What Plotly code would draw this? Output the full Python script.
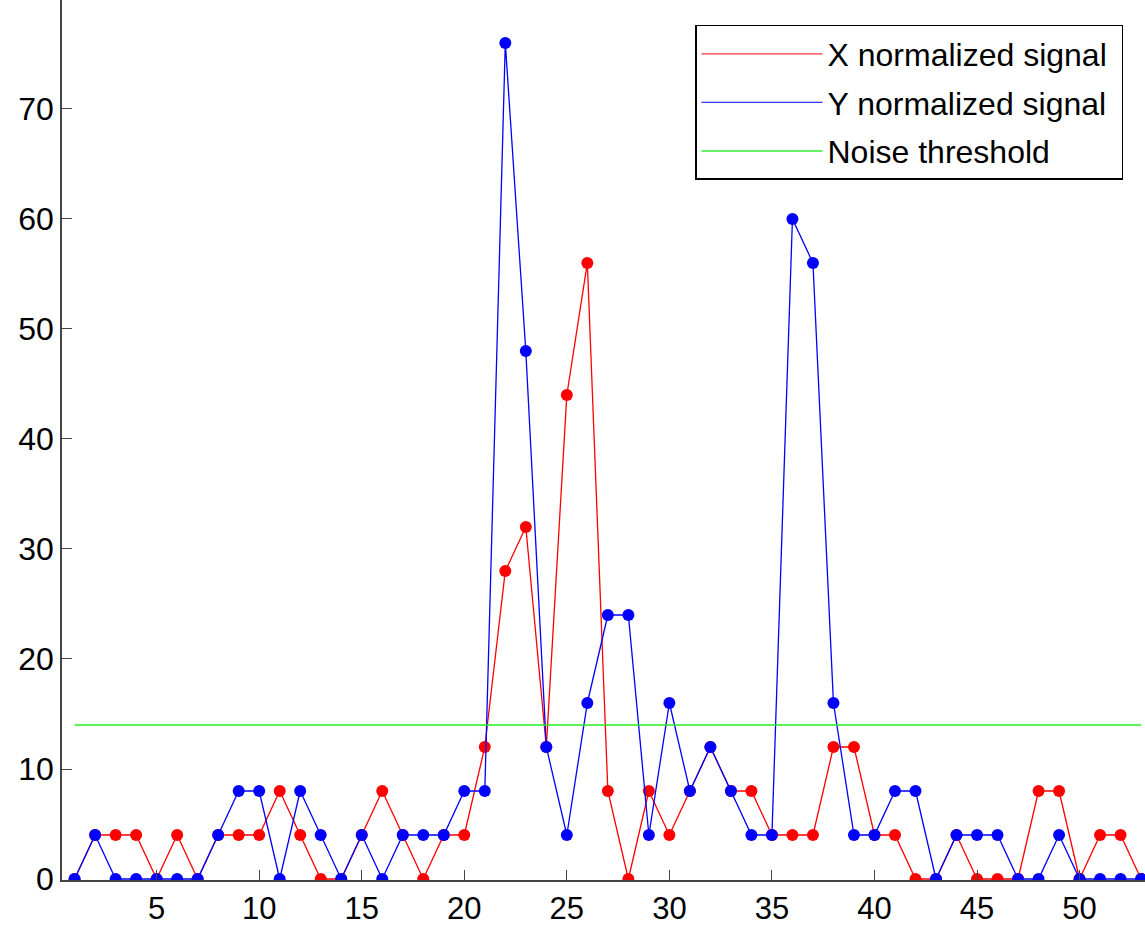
import plotly.graph_objects as go

samples = list(range(1, 54))
x_signal = [0, 4, 4, 4, 0, 4, 0, 4, 4, 4, 8, 4, 0, 0, 4, 8, 4, 0, 4, 4,
            12, 28, 32, 12, 44, 56, 8, 0, 8, 4, 8, 12, 8, 8, 4, 4, 4, 12, 12, 4,
            4, 0, 0, 4, 0, 0, 0, 8, 8, 0, 4, 4, 0]
y_signal = [0, 4, 0, 0, 0, 0, 0, 4, 8, 8, 0, 8, 4, 0, 4, 0, 4, 4, 4, 8,
            8, 76, 48, 12, 4, 16, 24, 24, 4, 16, 8, 12, 8, 4, 4, 60, 56, 16, 4, 4,
            8, 8, 0, 4, 4, 4, 0, 0, 4, 0, 0, 0, 0]
threshold = 14
names = ["X normalized signal", "Y normalized signal", "Noise threshold"]
y_ticks = [0, 10, 20, 30, 40, 50, 60, 70]
x_ticks = [5, 10, 15, 20, 25, 30, 35, 40, 45, 50]

FONT = "Liberation Sans, Arial, sans-serif"
fig = go.Figure()

# marker traces (not in legend)
fig.add_trace(go.Scatter(x=samples, y=x_signal, mode="lines+markers",
                         line=dict(color="#ff0000", width=1.3),
                         marker=dict(color="#ff0000", size=12),
                         showlegend=False, hoverinfo="skip"))
fig.add_trace(go.Scatter(x=samples, y=y_signal, mode="lines+markers",
                         line=dict(color="#0000ff", width=1.3),
                         marker=dict(color="#0000ff", size=12),
                         showlegend=False, hoverinfo="skip"))
fig.add_trace(go.Scatter(x=[samples[0], samples[-1]], y=[threshold, threshold], mode="lines",
                         line=dict(color="#22ee22", width=1.5),
                         showlegend=False, hoverinfo="skip"))

# legend-only line entries
for nm, col, g in zip(names, ["#ff3333", "#3333ff", "#33ee33"], ["a", "b", "c"]):
    fig.add_trace(go.Scatter(x=[None], y=[None], mode="lines", name=nm + "\u00a0",
                             line=dict(color=col, width=1.3), legendgroup=g))

fig.update_layout(
    width=1145, height=927,
    margin=dict(l=62, r=0, t=0, b=47),
    paper_bgcolor="white", plot_bgcolor="white",
    font=dict(family=FONT, size=32, color="black"),
    showlegend=True,
    legend=dict(x=0.5845, y=0.9716, xanchor="left", yanchor="top",
                bgcolor="white", bordercolor="black", borderwidth=1.5,
                font=dict(family=FONT, size=32, color="black"),
                itemwidth=121, tracegroupgap=4, traceorder="grouped"),
    xaxis=dict(range=[0.386, 53.19], tickvals=x_ticks, ticks="inside", ticklen=10,
               tickcolor="#444", showgrid=False, zeroline=False, showline=True,
               linecolor="#444", linewidth=1.5, tickfont=dict(size=31),
               ticklabelstandoff=0, automargin=False),
    yaxis=dict(range=[-0.09, 79.9], tickvals=y_ticks, ticks="inside", ticklen=10,
               tickcolor="#444", showgrid=False, zeroline=False, showline=True,
               linecolor="#444", linewidth=1.5, tickfont=dict(size=32),
               ticklabelstandoff=0, automargin=False),
)

fig.write_html("out.html", config={"displayModeBar": False},
               post_script="document.body.style.margin='0';document.body.style.overflow='hidden';")
